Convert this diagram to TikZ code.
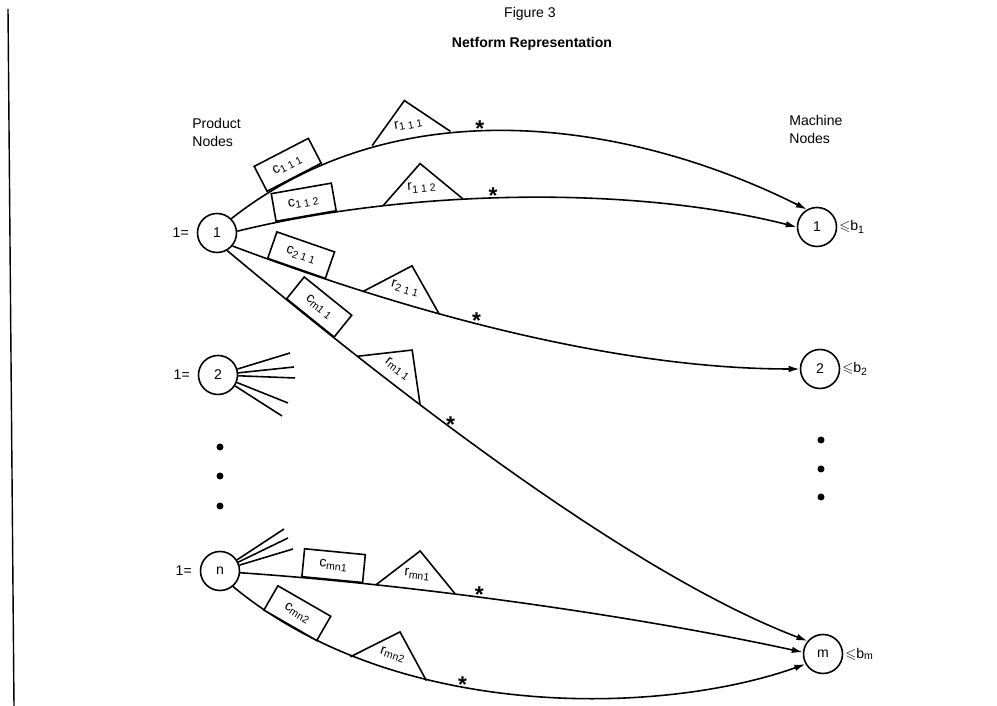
\documentclass[tikz,border=0pt]{standalone}
\usepackage{fontspec}
\setmainfont{Liberation Sans}
\usepackage{amssymb}
\usetikzlibrary{arrows.meta, positioning}

\begin{document}
\begin{tikzpicture}[
    font=\fontsize{8}{10.5}\selectfont,
    prod/.style={draw, circle, line width=0.9pt, minimum size=0.78cm, inner sep=0pt},
    mach/.style={draw, circle, line width=0.9pt, minimum size=0.78cm, inner sep=0pt},
    cbox/.style={draw, fill=white, line width=0.9pt, sloped, anchor=south, minimum width=1.22cm, minimum height=0.56cm, inner sep=0pt, font=\fontsize{8}{9}\selectfont},
    rtri/.style={sloped, anchor=south, minimum width=1.56cm, minimum height=0.74cm, inner sep=0pt, text height=8pt, text depth=0pt, font=\fontsize{8}{9}\selectfont},
    ast/.style={font=\fontsize{13}{13}\selectfont\bfseries, inner sep=0pt, above=-3.5pt},
    dot/.style={circle, fill, inner sep=0pt, minimum size=0.14cm},
    arrow/.style={-{Latex[length=2.2mm, width=1.3mm]}, line width=0.9pt},
    stub/.style={line width=0.9pt}
]
\useasboundingbox (0,0) rectangle (19.94,14.12);

% Page edge
\draw[line width=0.8pt] (0.16,13.94) -- (0.28,0);

% Titles
\node (fig) at (10.6,13.84) {Figure 3};
\node[font=\fontsize{8}{10}\selectfont\bfseries] (title) at (10.64,13.24) {Netform Representation};

% Column headings
\node[align=left, anchor=north west, inner sep=0pt] (prodlbl) at (3.84,11.76) {Product\\Nodes};
\node[align=left, anchor=north west, inner sep=0pt] (machlbl) at (15.78,11.82) {Machine\\Nodes};

% Product nodes
\node[prod] (p1) at (4.34,9.46) {1};
\node[prod] (p2) at (4.36,6.62) {2};
\node[prod] (pn) at (4.40,2.70) {n};
\node[left=1pt of p1] (e1) {1=};
\node[left=1pt of p2] (e2) {1=};
\node[left=1pt of pn] (en) {1=};

% Machine nodes
\node[mach] (m1) at (16.34,9.58) {1};
\node[mach] (m2) at (16.40,6.74) {2};
\node[mach] (mm) at (16.46,1.04) {m};
\node[right=0pt of m1, inner sep=1pt] (b1) {$\leqslant$b\textsubscript{1}};
\node[right=0pt of m2, inner sep=1pt] (b2) {$\leqslant$b\textsubscript{2}};
\node[right=0pt of mm, inner sep=1pt] (bm) {$\leqslant$b\textsubscript{m}};

% Dots
\foreach \y [count=\i] in {5.18,4.60,4.00}
    \node[dot] (ld\i) at (4.40,\y) {};
\foreach \y [count=\i] in {5.32,4.74,4.18}
    \node[dot] (rd\i) at (16.42,\y) {};

% Arcs from product 1
\draw[arrow] (p1.45) .. controls (8,12.4) and (12.6,11.7) .. (m1.120)
    node[cbox, pos=0.12] (c111) {c\textsubscript{1 1 1}}
    node[rtri, pos=0.325] (r111) {r\textsubscript{1 1 1}}
    node[ast, pos=0.44] (a111) {*};
\draw[arrow] (p1.5) .. controls (8,10.3) and (12.5,10.45) .. (m1.180)
    node[cbox, pos=0.135] (c112) {c\textsubscript{1 1 2}}
    node[rtri, pos=0.345] (r112) {r\textsubscript{1 1 2}}
    node[ast, pos=0.465] (a112) {*};
\draw[arrow] (p1.-40) .. controls (8.5,7.75) and (12.5,6.74) .. (m2.180)
    node[cbox, pos=0.11] (c211) {c\textsubscript{2 1 1}}
    node[rtri, pos=0.29] (r211) {r\textsubscript{2 1 1}}
    node[ast, pos=0.42] (a211) {*};
\draw[arrow] (p1.-60) .. controls (8.8,5.55) and (13,2.5) .. (mm.140)
    node[cbox, pos=0.13] (cm11) {c\textsubscript{m1 1}}
    node[rtri, pos=0.255] (rm11) {r\textsubscript{m1 1}}
    node[ast, pos=0.355] (am11) {*};

% Arcs from product n
\draw[arrow] (pn.-5) .. controls (8,2.45) and (12.5,1.85) .. (mm.175)
    node[cbox, pos=0.18] (cmn1) {c\textsubscript{mn1}}
    node[rtri, pos=0.33] (rmn1) {r\textsubscript{mn1}}
    node[ast, pos=0.44] (amn1) {*};
\draw[arrow] (pn.-50) .. controls (7.9,-0.3) and (13.2,-0.2) .. (mm.210)
    node[cbox, pos=0.11] (cmn2) {c\textsubscript{mn2}}
    node[rtri, pos=0.28] (rmn2) {r\textsubscript{mn2}}
    node[ast, pos=0.4] (amn2) {*};

% Triangles
\foreach \t in {r111,r112,r211,rm11,rmn1,rmn2}
    \draw[line width=0.9pt] (\t.south west) -- (\t.north) -- (\t.south east);

% Stubs
\foreach \x/\y [count=\i] in {5.80/7.06, 5.88/6.78, 5.90/6.56, 5.76/6.06, 5.64/5.80} {
    \coordinate (s2\i) at (\x,\y);
    \draw[stub] (p2) -- (s2\i);
}
\foreach \x/\y [count=\i] in {5.68/3.54, 5.76/3.36, 5.86/3.14} {
    \coordinate (sn\i) at (\x,\y);
    \draw[stub] (pn) -- (sn\i);
}

\end{tikzpicture}
\end{document}
